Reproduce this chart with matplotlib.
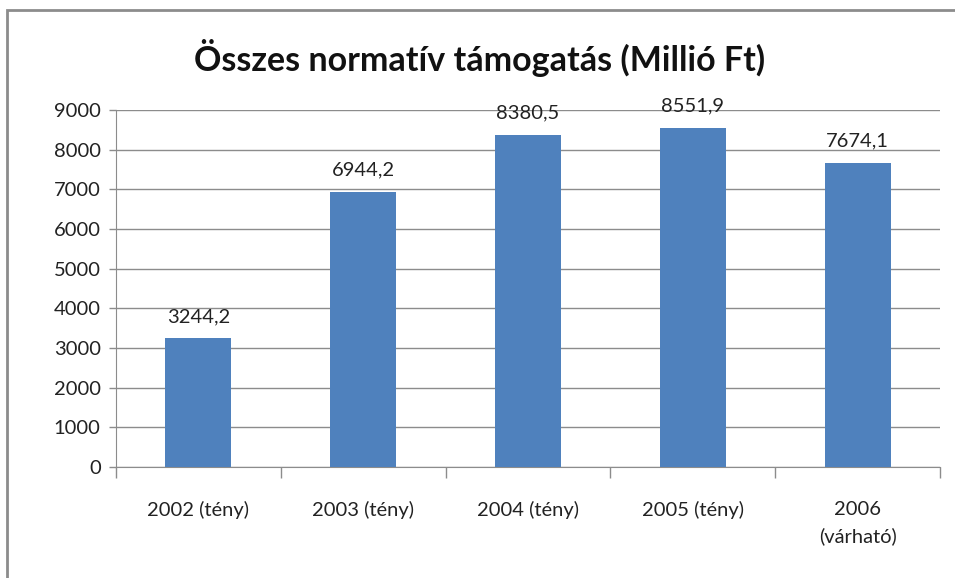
import matplotlib.pyplot as plt
from matplotlib.patches import Rectangle

# Data
categories = ['2002 (tény)', '2003 (tény)', '2004 (tény)', '2005 (tény)', '2006\n(várható)']
values = [3244.2, 6944.2, 8380.5, 8551.9, 7674.1]
value_labels = ['3244,2', '6944,2', '8380,5', '8551,9', '7674,1']
yticks = [0, 1000, 2000, 3000, 4000, 5000, 6000, 7000, 8000, 9000]

plt.rcParams['font.family'] = ['Lato', 'DejaVu Sans']

fig = plt.figure(figsize=(9.55, 5.78), dpi=100)
ax = fig.add_axes([116 / 955, 1 - 467 / 578, (940 - 116) / 955, (467 - 110) / 578])

# outer chart frame (only left/top visible in the reference)
fig.patches.append(Rectangle((7 / 955, -0.1), 1.2, (578 - 10) / 578 + 0.1,
                             transform=fig.transFigure, fill=False,
                             edgecolor='#8c8c8c', linewidth=2))

x = range(len(categories))
ax.bar(x, values, width=0.4, color='#4f81bd', zorder=3)

for i, v in enumerate(values):
    ax.text(i, v + 330, value_labels[i], ha='center', va='bottom', fontsize=14.5, color='#222222')

ax.set_xlim(-0.5, len(categories) - 0.5)
ax.set_ylim(0, 9000)
ax.set_yticks(yticks)
ax.set_yticklabels([str(t) for t in yticks], fontsize=14.5, color='#222222')
ax.yaxis.grid(True, color='#8c8c8c', linewidth=1, zorder=0)

# x ticks at category boundaries, labels at centers
ax.set_xticks([i - 0.5 for i in range(len(categories) + 1)])
ax.set_xticklabels([])
ax.tick_params(axis='x', length=8, color='#8c8c8c', width=1)
ax.tick_params(axis='y', length=5, color='#8c8c8c', width=1, pad=6)
for i, c in enumerate(categories):
    ax.text(i, -850, c, ha='center', va='top', fontsize=14.5, color='#222222', linespacing=1.65)

for s in ['top', 'right']:
    ax.spines[s].set_visible(False)
ax.spines['left'].set_color('#8c8c8c')
ax.spines['bottom'].set_color('#8c8c8c')

fig.text(480 / 955, 1 - 58 / 578, 'Összes normatív támogatás (Millió Ft)',
         ha='center', va='center', fontsize=24.5, fontweight='bold', color='#111111')

fig.savefig('out.png', dpi=100)
